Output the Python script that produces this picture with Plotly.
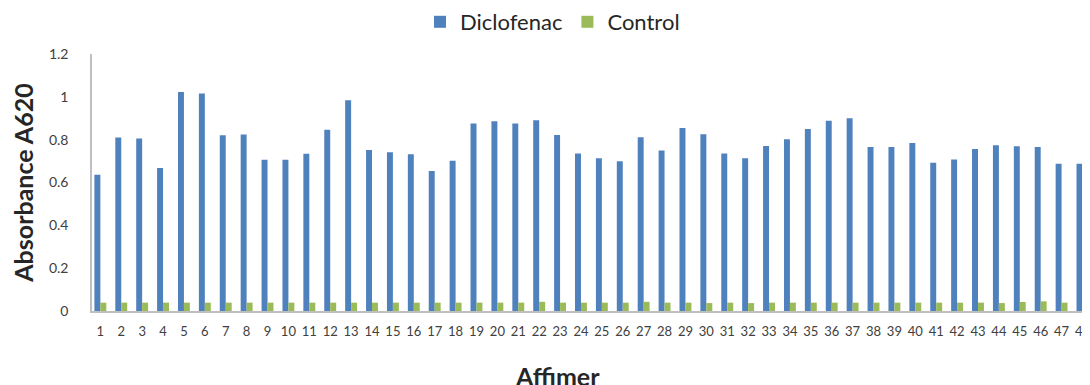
import plotly.graph_objects as go

affimers = [str(i) for i in range(1, 49)]
diclofenac = [0.636, 0.810, 0.805, 0.668, 1.022, 1.015, 0.821, 0.824, 0.706, 0.706,
              0.734, 0.846, 0.984, 0.752, 0.741, 0.732, 0.654, 0.702, 0.875, 0.886,
              0.875, 0.891, 0.822, 0.735, 0.713, 0.699, 0.811, 0.749, 0.855, 0.825,
              0.735, 0.713, 0.771, 0.802, 0.850, 0.888, 0.900, 0.766, 0.766, 0.785,
              0.692, 0.707, 0.757, 0.774, 0.769, 0.766, 0.688, 0.688]
control = [0.039, 0.039, 0.039, 0.039, 0.039, 0.039, 0.039, 0.039, 0.039, 0.039,
           0.039, 0.039, 0.039, 0.039, 0.039, 0.039, 0.039, 0.039, 0.039, 0.039,
           0.039, 0.043, 0.039, 0.039, 0.039, 0.039, 0.043, 0.039, 0.039, 0.037,
           0.039, 0.037, 0.039, 0.039, 0.039, 0.039, 0.039, 0.039, 0.039, 0.039,
           0.039, 0.039, 0.039, 0.037, 0.042, 0.045, 0.039, 0.042]

FONT = "Lato"
xs = list(range(1, 49))

# page body adds an 8px offset; figure coordinates below are screen minus 8
W, H = 1082, 377
L, R, T, B = 84, 0, 46, 74
PW = W - L - R
PH = H - T - B

fig = go.Figure()
fig.add_trace(go.Bar(x=xs, y=diclofenac, name="Diclofenac", marker_color="#4F81BD",
                     marker_line_width=0))
fig.add_trace(go.Bar(x=xs, y=control, name="Control", marker_color="#9BBB59",
                     marker_line_width=0))

fig.update_layout(
    width=W, height=H,
    margin=dict(l=L, r=R, t=T, b=B, autoexpand=False),
    barmode="group", bargap=0.43, bargroupgap=0,
    plot_bgcolor="white", paper_bgcolor="white",
    font=dict(family=FONT, color="#404040"),
    legend=dict(orientation="h", x=(412 - L) / PW, xanchor="left",
                y=1 + (T + 7) / PH, yanchor="top",
                font=dict(size=22, color="#262626"), traceorder="normal",
                itemwidth=30, tracegroupgap=0),
    showlegend=True,
    annotations=[dict(text="<b>Affimer</b>", x=(549 - L) / PW, y=-(368 - (H - B)) / PH,
                      xref="paper", yref="paper", showarrow=False,
                      font=dict(size=25, color="#262626"),
                      xanchor="center", yanchor="middle")],
)

fig.update_xaxes(
    range=[0.6, 48.36], tickmode="array", tickvals=xs, ticktext=affimers,
    showgrid=False, zeroline=False, showline=True, linecolor="#BFBFBF", linewidth=1.5,
    ticks="", ticklabelstandoff=8, tickfont=dict(size=13, color="#404040"), tickangle=0,
    ticklabeloverflow="allow", automargin=False,
)
fig.update_yaxes(
    range=[0, 1.2], tickvals=[0, 0.2, 0.4, 0.6, 0.8, 1.0, 1.2],
    ticktext=["0", "0.2", "0.4", "0.6", "0.8", "1", "1.2"],
    showgrid=False, zeroline=False, showline=True, linecolor="#BFBFBF", linewidth=1.5,
    ticks="", ticklabelstandoff=19, tickfont=dict(size=14, color="#404040"), automargin=False,
    title=dict(text="<b>Absorbance A620</b>", font=dict(size=25, color="#262626"), standoff=9),
)

fig.write_html("out.html")
